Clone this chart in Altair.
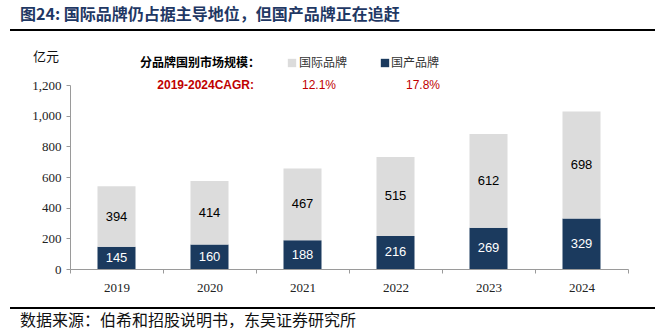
import altair as alt
import pandas as pd

years = ["2019", "2020", "2021", "2022", "2023", "2024"]
domestic = [145, 160, 188, 216, 269, 329]
international = [394, 414, 467, 515, 612, 698]
series_names = ["国产品牌", "国际品牌"]
colors = ["#1B3A5E", "#DCDCDC"]
label_colors = ["white", "black"]
cagr = ["17.8%", "12.1%"]
y_ticks = [0, 200, 400, 600, 800, 1000, 1200]

rows = []
for i, y in enumerate(years):
    base = 0
    for k, (name, vals) in enumerate(zip(series_names, [domestic, international])):
        v = vals[i]
        rows.append({"year": y, "series": name, "order": k, "lo": base, "hi": base + v,
                     "mid": base + v / 2, "value": v})
        base += v
df = pd.DataFrame(rows)

xaxis = alt.Axis(labelAngle=0, labelFont="Liberation Serif", labelFontSize=13,
                 labelColor="#222", labelPadding=8, domainColor="#9a9a9a",
                 tickColor="#9a9a9a", tickBand="extent", tickSize=4)
yaxis = alt.Axis(values=y_ticks, format=",.0f", grid=False, labelFont="Liberation Serif",
                 labelFontSize=13, labelColor="#222", domainColor="#9a9a9a",
                 tickColor="#9a9a9a", tickSize=4, labelPadding=5)
xscale = alt.Scale(paddingInner=0, paddingOuter=0)
yscale = alt.Scale(domain=[0, 1200], nice=False)

bars = alt.Chart(df).mark_bar(size=38).encode(
    x=alt.X("year:N", title=None, sort=years, scale=xscale, axis=xaxis),
    y=alt.Y("lo:Q", scale=yscale, title=None, axis=yaxis),
    y2="hi:Q",
    color=alt.Color("series:N", scale=alt.Scale(domain=series_names, range=colors), legend=None),
)

label_layers = []
for name, lc in zip(series_names, label_colors):
    label_layers.append(
        alt.Chart(df[df.series == name]).mark_text(font="Liberation Sans", fontSize=13,
                                                   baseline="middle", color=lc).encode(
            x=alt.X("year:N", title=None, sort=years, scale=xscale, axis=xaxis),
            y=alt.Y("mid:Q", scale=yscale, title=None, axis=yaxis),
            text="value:Q",
        )
    )

# Header / footer annotations (pixel positions relative to plot origin)
ann = pd.DataFrame({"d": [0]})
def txt(text, x, y, size=12, color="#000", weight="normal", align="left", font="Noto Sans CJK SC"):
    return alt.Chart(ann).mark_text(text=text, fontSize=size, color=color, fontWeight=weight,
                                    align=align, baseline="middle", font=font).encode(
        x=alt.value(x), y=alt.value(y))

def rule(x1, x2, y, w, color="#000"):
    return alt.Chart(ann).mark_rule(strokeWidth=w, color=color).encode(
        x=alt.value(x1), x2=alt.value(x2), y=alt.value(y))

def sq(x, y, color):
    return alt.Chart(ann).mark_square(size=70, color=color, opacity=1).encode(
        x=alt.value(x), y=alt.value(y))

ox, oy = 70, 85
layers = [
    bars, *label_layers,
    txt("图24:  国际品牌仍占据主导地位，但国产品牌正在追赶", 20 - ox, 15 - oy, size=16,
        color="#1F3864", weight="bold"),
    rule(10 - ox, 655 - ox, 30 - oy, 2),
    rule(10 - ox, 655 - ox, 308 - oy, 2),
    txt("数据来源：伯希和招股说明书，东吴证券研究所", 20 - ox, 321 - oy, size=16, color="#111"),
    txt("亿元", 33 - ox, 57 - oy, size=13, color="#111"),
    txt("分品牌国别市场规模：", 140 - ox, 63 - oy, size=12, weight="bold"),
    sq(292 - ox, 63 - oy, colors[1]),
    txt("国际品牌", 299 - ox, 63 - oy, size=12, color="#333"),
    sq(385 - ox, 63 - oy, colors[0]),
    txt("国产品牌", 391 - ox, 63 - oy, size=12, color="#333"),
    txt("2019-2024CAGR:", 254 - ox, 85 - oy, size=12, color="#C00000", weight="bold",
        align="right", font="Liberation Sans"),
    txt(cagr[1], 319 - ox, 85 - oy, size=12, color="#C00000", align="center", font="Liberation Sans"),
    txt(cagr[0], 423 - ox, 85 - oy, size=12, color="#C00000", align="center", font="Liberation Sans"),
]

chart = alt.layer(*layers).properties(
    width=558, height=184,
    autosize=alt.AutoSizeParams(type="none"),
    padding={"left": ox, "top": oy, "right": 663 - ox - 558, "bottom": 333 - oy - 184},
    background="white",
).configure_view(stroke=None)

chart.save("out.html", embed_options={"renderer": "svg", "actions": False})
